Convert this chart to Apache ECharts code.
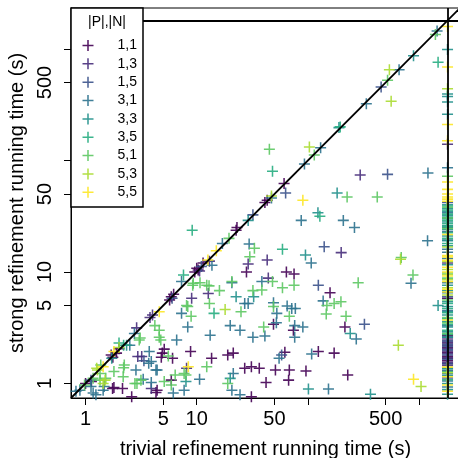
<!DOCTYPE html>
<html>
<head>
<meta charset="utf-8">
<title>strong vs trivial refinement</title>
<script src="https://cdn.jsdelivr.net/npm/echarts@6.0.0/dist/echarts.min.js"></script>
<style>
  html, body { margin: 0; padding: 0; background: #ffffff; }
  #chart { width: 458px; height: 458px; }
</style>
</head>
<body>
<div id="chart"></div>
<script>
// ============================================================
// Data: trivial vs strong refinement running times (seconds)
// ============================================================

var GROUPS = ['1,1', '1,3', '1,5', '3,1', '3,3', '3,5', '5,1', '5,3', '5,5'];
var COLORS = ['#440154', '#472D7B', '#3B528B', '#2C728E', '#21908C', '#27AD81', '#5DC863', '#AADC32', '#FDE725'];

var TIMEOUT = 1800;
var AXIS_MIN = 0.74;
var AXIS_MAX = 2330;
var TICKS = [1, 5, 10, 50, 100, 500, 1000];
var TICK_LABELS = [1, 5, 10, 50, 500];

// [trivial, strong] for runs where trivial refinement finished
var P11 = [[1.0, 1.0], [1.13, 1.04], [1.7, 1.8], [1.76, 1.72], [1.9, 1.87], [2.0, 2.05], [5.9, 6.0], [5.7, 5.6], [6.2, 6.3],
  [10, 10.8], [10.3, 10.4], [11.4, 12], [9.6, 10], [23, 25], [22.6, 23.7], [43, 44], [41, 42], [61, 62],
  [1.8, 0.92], [1.75, 0.9], [2.15, 0.9], [2.6, 0.76], [4.4, 0.87], [4.3, 0.83], [4.9, 1.87], [5.1, 2.03], [4.8, 1.72],
  [6.06, 1.68], [5.9, 1.07], [8.8, 1.93], [13.6, 1.68], [21.3, 1.87], [19, 1.8], [27, 1.37], [31, 1.41], [36.5, 1.37],
  [31, 0.76], [28, 10], [64, 10], [75, 9.6], [158, 6.5], [49, 3.4], [74, 3.0], [215, 3.2], [62, 1.9], [124, 1.93],
  [172, 1.87], [51, 1.32], [68, 1.32], [96, 1.29], [228, 1.19], [67, 1.07], [42, 1.02]];
var P13 = [[2.88, 3.15], [4.0, 4.1], [3.8, 3.9], [10.6, 10.2], [13, 12.5], [3.2, 1.74], [2.95, 1.74], [3.9, 0.9],
  [8.1, 1.37], [12.7, 6.4], [9, 5.8], [29, 11.8], [43, 12.8], [44, 8.8], [199, 14.9], [295, 74]];
var P15 = [[1.12, 1.07], [6.0, 5.8], [32, 32.5], [455, 455], [11, 11.2], [3.35, 1.6], [63, 51], [140, 16.8],
  [124, 7.6], [322, 3.4], [58, 1.8], [520, 75]];
var P31 = [[0.82, 0.85], [0.89, 0.87], [2.75, 2.8], [2.5, 2.2], [17, 18], [93, 93], [130, 130], [335, 323], [660, 650],
  [1450, 1450], [13.7, 11.5], [47, 46], [1.17, 0.82], [1.44, 0.87], [1.47, 0.94], [1.12, 0.94], [1.24, 0.79],
  [2.84, 1.32], [3.3, 1.09], [3.9, 1.02], [3.7, 1.52], [3.74, 1.93], [3.9, 1.57], [4.3, 1.32], [4.4, 1.32], [6.6, 2.45],
  [6.15, 0.82], [7.7, 0.87], [10.6, 1.09], [7.3, 4.25], [8.3, 3.2], [7.3, 8.2], [13.2, 2.7], [20, 3.3], [24.5, 3.0],
  [32, 2.6], [27, 5.2], [29, 5.2], [20.7, 8], [21.3, 1.23], [20.7, 0.87], [24.5, 0.79], [29.6, 17.8], [38.5, 8.2],
  [49, 5.3], [52.5, 4.25], [65, 4.95], [71.5, 4.7], [77, 4.7], [52, 3.5], [76, 3.3], [90, 3.2], [76, 2.6], [41, 2.66],
  [272, 2.5], [55, 1.68], [108, 1.84], [153, 0.89], [137, 5.5], [107, 12], [87, 29], [208, 29], [262, 25],
  [845, 7.9], [1190, 19], [1200, 77]];
var P33 = [[2.34, 2.2], [1.72, 1.68], [29, 29], [190, 197], [890, 870], [8, 1.04], [20, 1.11], [101, 0.89],
  [365, 0.8], [240, 2.8], [95, 14.2], [123, 34], [183, 51], [22.6, 6], [32.5, 6], [1480, 5]];
var P35 = [[2.0, 2.3], [2.2, 2.2], [195, 200], [7.6, 9.4], [9.1, 23.7], [48, 80], [59, 16], [128, 31.6],
  [14.3, 4.25], [1480, 760]];
var P51 = [[0.98, 0.97], [1.35, 1.23], [1.37, 1.46], [19.5, 20], [520, 525], [1400, 1350], [1.17, 1.11], [1.35, 1.07],
  [1.52, 1.11], [1.8, 1.28], [2.23, 1.46], [2.2, 1.38], [2.18, 1.15], [2.78, 1.0], [2.9, 1.0], [3.15, 1.07],
  [3.04, 2.45], [3.1, 2.55], [4.6, 2.6], [4.6, 3.0], [4.75, 2.45], [4.2, 3.3], [5.55, 1.76], [5.1, 1.04], [5.9, 0.97],
  [6.4, 1.19], [7.7, 1.23], [8, 1.19], [12.3, 1.41], [8.3, 4.9], [8.1, 5], [8.9, 4], [9.3, 7.9], [10.7, 8], [9.2, 7.6],
  [12.9, 7.5], [12.3, 7.6], [13, 5.2], [16, 6.8], [20.7, 8.2], [25, 4.4], [32, 6.8], [38.5, 6.9], [30, 13.7],
  [33, 16.3], [48, 8.2], [59, 7.2], [75, 7.6], [283, 8], [49, 4.9], [68, 4], [40, 3.2], [148, 5], [172, 5.2],
  [198, 5.4], [146, 4.2], [220, 4], [880, 9.4], [45, 126], [114, 112], [225, 47], [420, 47], [19, 1.0], [690, 13.5]];
var P53 = [[1.28, 1.32], [1.26, 1.37], [2.0, 2.1], [47, 48], [1.44, 1.0], [1.5, 1.07], [18, 4.6], [103, 132],
  [540, 650], [560, 340], [680, 13], [650, 2.2], [1040, 0.94]];
var P55 = [[1.44, 1.41], [1.8, 1.93], [4.6, 4.4], [12.6, 12.8], [15, 15.5], [8.4, 1.41], [90, 44], [890, 1.09]];

// strong running time for runs where trivial refinement hit the timeout
var TO11 = [2.3, 2.1, 1.9, 1.75, 1.6, 1.5, 5.8, 2.7, 1.68];
var TO13 = [140, 12, 2.45, 2.35, 2.2, 2.05, 1.95, 1.85, 1.7, 1.55, 1.45, 2.55];
var TO15 = [42, 6.0, 2.4, 2.25, 2.15, 2.0, 1.8, 1.65, 1.5, 1.3, 1.12, 2.62];
var TO31 = [86, 34, 25, 23, 19.3, 13.2, 8, 6.5, 4.5, 3.3, 1.38, 1.22, 1.05, 0.93, 16, 15];
var TO33 = [990, 395, 375, 335, 260, 40, 37, 35, 32, 30, 28, 26, 24, 21, 19, 11.6, 7.6, 6.8, 5.4, 4.9, 4.4, 4.1,
  3.6, 3.2, 2.9, 2.6, 1.35, 1.18, 1.0, 0.88, 0.8, 17.2];
var TO35 = [39, 36, 33, 31, 29, 27, 25.5, 22.5, 20, 18, 5.2, 4.7, 4.3, 3.8, 3.4, 3.0, 2.75, 1.28, 1.08];
var TO51 = [72, 38, 30.5, 24.5, 9.8, 8.8, 5.6, 3.9, 3.5, 2.8];
var TO53 = [440, 16.7, 10.5, 9.5, 8.5, 7.2, 6.2, 12.4, 1.25];
var TO55 = [1590, 690, 210, 150, 64, 55, 50, 47, 45, 43, 21.7, 14, 13.6, 12.7, 11, 10, 9.2, 8.2, 7, 6.6, 3.7,
  1.4, 1.15, 0.97, 0.85];

var SOLVED = [P11, P13, P15, P31, P33, P35, P51, P53, P55];
var TIMED_OUT = [TO11, TO13, TO15, TO31, TO33, TO35, TO51, TO53, TO55];

// ============================================================
// Style
// ============================================================

var FONT = '"Liberation Sans", Arial, Helvetica, sans-serif';
var PLUS = 'path://M4.3,0H5.7V4.3H10V5.7H5.7V10H4.3V5.7H0V4.3H4.3Z';
var GRID = { left: 71, top: 8, width: 389, height: 390 };

// ============================================================
// Build
// ============================================================

var log10 = function(v) { return Math.log(v) / Math.LN10; };

var formatTick = function(v) { return String(Math.round(Math.pow(10, v))); };

var buildScatter = function(idx) {
  var pts = SOLVED[idx].concat(TIMED_OUT[idx].map(function(y) { return [TIMEOUT, y]; }));
  return {
    name: GROUPS[idx],
    type: 'scatter',
    xAxisIndex: 0,
    yAxisIndex: 0,
    symbol: PLUS,
    symbolSize: 11,
    data: pts,
    itemStyle: { color: COLORS[idx], opacity: 0.9 },
    silent: true,
    z: 2,
  };
};

// log axes carry the data, value axes (in log10 units) only draw ticks and labels
var tickAxis = function(position, rotate, margin, name, nameGap) {
  return {
    type: 'value',
    position: position,
    min: log10(AXIS_MIN),
    max: log10(AXIS_MAX),
    name: name,
    nameLocation: 'middle',
    nameGap: nameGap,
    nameTextStyle: { fontFamily: FONT, fontSize: 20, color: '#000' },
    axisLine: { show: true, lineStyle: { color: '#000', width: 1 } },
    axisTick: { show: true, length: 7, lineStyle: { color: '#000', width: 1 }, customValues: TICKS.map(log10) },
    axisLabel: { show: true, rotate: rotate, margin: margin, fontFamily: FONT, fontSize: 20, color: '#000',
      customValues: TICK_LABELS.map(log10), formatter: formatTick },
    splitLine: { show: false },
  };
};

var dataAxis = function() {
  return { type: 'log', logBase: 10, min: AXIS_MIN, max: AXIS_MAX, show: false, splitLine: { show: false } };
};

var series = GROUPS.map(function(g, i) { return buildScatter(i); });

series.push({
  name: 'reference',
  type: 'scatter',
  xAxisIndex: 0,
  yAxisIndex: 0,
  data: [],
  silent: true,
  z: 5,
  markLine: {
    silent: true,
    symbol: 'none',
    label: { show: false },
    lineStyle: { color: '#000', width: 1.8, type: 'solid' },
    data: [
      [{ coord: [AXIS_MIN, AXIS_MIN] }, { coord: [AXIS_MAX, AXIS_MAX] }],
      { xAxis: TIMEOUT },
      { yAxis: TIMEOUT },
    ],
  },
});

var chart = echarts.init(document.getElementById('chart'), null, { renderer: 'canvas' });

chart.setOption({
  animation: false,
  backgroundColor: '#ffffff',
  grid: { left: GRID.left, top: GRID.top, width: GRID.width, height: GRID.height, show: true,
    outerBoundsMode: 'none', containLabel: false,
    borderColor: '#000', borderWidth: 1, backgroundColor: 'transparent' },
  xAxis: [dataAxis(), tickAxis('bottom', 0, 11, 'trivial refinement running time (s)', 41)],
  yAxis: [dataAxis(), tickAxis('left', 90, 16, 'strong refinement running time (s)', 32)],
  legend: {
    data: GROUPS.map(function(g) { return { name: g, icon: PLUS }; }),
    orient: 'vertical',
    left: 82.5,
    top: 38.5,
    padding: 0,
    itemWidth: 11,
    itemHeight: 11,
    itemGap: 4.35,
    selectedMode: false,
    z: 110,
    textStyle: { fontFamily: FONT, fontSize: 14, color: '#000', lineHeight: 11, padding: [0, 0, 0, 19] },
  },
  graphic: [
    { type: 'rect', z: 100, shape: { x: 71, y: 8, width: 72, height: 199 },
      style: { fill: '#ffffff', stroke: '#000', lineWidth: 1.5 } },
    { type: 'text', z: 101, x: 107, y: 22.5,
      style: { text: '|P|,|N|', font: '14px ' + FONT, fill: '#000', align: 'center', verticalAlign: 'middle',
        textAlign: 'center', textVerticalAlign: 'middle' } },
  ],
  series: series,
});
</script>
</body>
</html>
